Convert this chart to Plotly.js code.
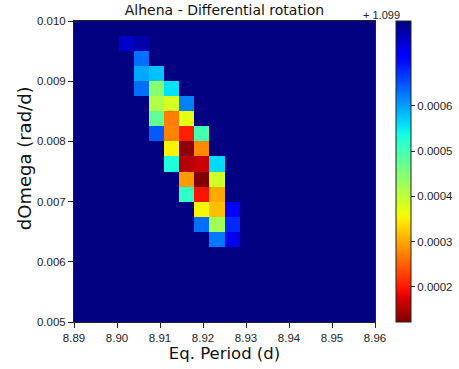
<!DOCTYPE html>
<html>
<head>
<meta charset="utf-8">
<script src="https://cdn.plot.ly/plotly-3.0.1.min.js"></script>
<style>html,body{margin:0;padding:0;background:#fff;}#chart{width:459px;height:369px;}</style>
</head>
<body>
<div id="chart"></div>
<script>
// Grid cell centres (Eq. Period in d, dOmega in rad/d)
var periodCenters = [8.89175, 8.89525, 8.89875, 8.90225, 8.90575, 8.90925, 8.91275, 8.91625, 8.91975, 8.92325,
                     8.92675, 8.93025, 8.93375, 8.93725, 8.94075, 8.94425, 8.94775, 8.95125, 8.95475, 8.95825];
var dOmegaCenters = [0.005125, 0.005375, 0.005625, 0.005875, 0.006125, 0.006375, 0.006625, 0.006875, 0.007125, 0.007375,
                     0.007625, 0.007875, 0.008125, 0.008375, 0.008625, 0.008875, 0.009125, 0.009375, 0.009625, 0.009875];

// Offset of the colour values (shown as "+ 1.099" above the colour bar)
var valueOffset = 1.099;
// Value of the cells that are not computed (background)
var backgroundValue = 0.000788;
var colorMin = 0.000122;
var colorMax = 0.000788;

// Computed cells
var cellPeriod = [8.90225, 8.90575,
                  8.90575,
                  8.90575, 8.90925,
                  8.90575, 8.90925, 8.91275,
                  8.90925, 8.91275, 8.91625,
                  8.90925, 8.91275, 8.91625,
                  8.90925, 8.91275, 8.91625, 8.91975,
                  8.91275, 8.91625, 8.91975,
                  8.91275, 8.91625, 8.91975, 8.92325,
                  8.91625, 8.91975, 8.92325,
                  8.91625, 8.91975, 8.92325,
                  8.91975, 8.92325, 8.92675,
                  8.91975, 8.92325, 8.92675,
                  8.92325, 8.92675];
var cellDOmega = [0.009625, 0.009625,
                  0.009375,
                  0.009125, 0.009125,
                  0.008875, 0.008875, 0.008875,
                  0.008625, 0.008625, 0.008625,
                  0.008375, 0.008375, 0.008375,
                  0.008125, 0.008125, 0.008125, 0.008125,
                  0.007875, 0.007875, 0.007875,
                  0.007625, 0.007625, 0.007625, 0.007625,
                  0.007375, 0.007375, 0.007375,
                  0.007125, 0.007125, 0.007125,
                  0.006875, 0.006875, 0.006875,
                  0.006625, 0.006625, 0.006625,
                  0.006375, 0.006375];
var cellValue = [0.000746, 0.000763,
                 0.000632,
                 0.000595, 0.000578,
                 0.000633, 0.000445, 0.000558,
                 0.000413, 0.000382, 0.000620,
                 0.000475, 0.000270, 0.000368,
                 0.000646, 0.000274, 0.000203, 0.000498,
                 0.000355, 0.000129, 0.000279,
                 0.000531, 0.000152, 0.000164, 0.000562,
                 0.000291, 0.000122, 0.000388,
                 0.000515, 0.000196, 0.000302,
                 0.000356, 0.000316, 0.000708,
                 0.000633, 0.000426, 0.000679,
                 0.000626, 0.000726];

var xTickVals = [8.89, 8.90, 8.91, 8.92, 8.93, 8.94, 8.95, 8.96];
var yTickVals = [0.005, 0.006, 0.007, 0.008, 0.009, 0.010];
var cbTickVals = [0.0002, 0.0003, 0.0004, 0.0005, 0.0006];
var cbTickText = ["0.0002", "0.0003", "0.0004", "0.0005", "0.0006"];

// Build z matrix
var z = [];
for (var i = 0; i < dOmegaCenters.length; i++) {
  var row = [];
  for (var j = 0; j < periodCenters.length; j++) row.push(backgroundValue);
  z.push(row);
}
for (var k = 0; k < cellValue.length; k++) {
  var xi = periodCenters.indexOf(cellPeriod[k]);
  var yi = dOmegaCenters.indexOf(cellDOmega[k]);
  if (xi >= 0 && yi >= 0) z[yi][xi] = cellValue[k];
}

// Reversed "jet" colour map (low values dark red, high values navy)
function interp(pts, s) {
  for (var i = 1; i < pts.length; i++) {
    if (s <= pts[i][0]) {
      var a = pts[i-1], b = pts[i];
      return a[1] + (b[1]-a[1]) * (s-a[0]) / (b[0]-a[0]);
    }
  }
  return pts[pts.length-1][1];
}
var R = [[0,0],[0.35,0],[0.66,1],[0.89,1],[1,0.5]];
var G = [[0,0],[0.125,0],[0.375,1],[0.64,1],[0.91,0],[1,0]];
var B = [[0,0.5],[0.11,1],[0.34,1],[0.65,0],[1,0]];
var colorscale = [];
for (var n = 0; n <= 50; n++) {
  var t = n / 50, s = 1 - t;
  colorscale.push([t, 'rgb(' + Math.round(255*interp(R,s)) + ',' + Math.round(255*interp(G,s)) + ',' + Math.round(255*interp(B,s)) + ')']);
}

var trace = {
  type: 'heatmap',
  x: periodCenters,
  y: dOmegaCenters,
  z: z,
  zmin: colorMin,
  zmax: colorMax,
  colorscale: colorscale,
  hoverinfo: 'x+y+z',
  colorbar: {
    x: 1.069, xanchor: 'left', xpad: 0,
    y: 0.5, yanchor: 'middle', ypad: 0,
    len: 1, lenmode: 'fraction',
    thickness: 15, thicknessmode: 'pixels',
    outlinewidth: 1, outlinecolor: '#222',
    ticks: 'outside', ticklen: 4, tickcolor: '#222',
    tickvals: cbTickVals, ticktext: cbTickText,
    tickfont: {family: 'Liberation Sans, Arial, sans-serif', size: 11.5, color: '#222'}
  }
};

var axisFont = {family: 'Liberation Sans, Arial, sans-serif', size: 11.5, color: '#222'};
var layout = {
  width: 459, height: 369,
  margin: {l: 74, r: 84, t: 21, b: 47, pad: 0, autoexpand: false},
  paper_bgcolor: '#fff', plot_bgcolor: '#fff',
  showlegend: false,
  title: {
    text: 'Alhena - Differential rotation',
    font: {family: 'DejaVu Sans, sans-serif', size: 14, color: '#111'},
    x: 0.5, xref: 'paper', xanchor: 'center',
    y: 0.973, yref: 'container', yanchor: 'middle'
  },
  xaxis: {
    range: [8.89, 8.96],
    tickvals: xTickVals, tickformat: '.2f',
    ticks: 'outside', ticklen: 5, tickcolor: '#222',
    showline: true, linecolor: '#222', linewidth: 1, mirror: true,
    showgrid: false, zeroline: false,
    tickfont: axisFont,
    title: {text: 'Eq. Period (d)', font: {family: 'DejaVu Sans, sans-serif', size: 16.5, color: '#111'}, standoff: 3},
    automargin: false
  },
  yaxis: {
    range: [0.005, 0.010],
    tickvals: yTickVals, tickformat: '.3f',
    ticks: 'outside', ticklen: 5, tickcolor: '#222',
    showline: true, linecolor: '#222', linewidth: 1, mirror: true,
    showgrid: false, zeroline: false,
    tickfont: axisFont,
    automargin: false
  },
  annotations: [
    {text: '+ ' + valueOffset.toFixed(3), xref: 'paper', yref: 'paper', x: 1.09, y: 1.02,
     xanchor: 'right', yanchor: 'middle', showarrow: false,
     font: {family: 'Liberation Sans, Arial, sans-serif', size: 11, color: '#222'}},
    {text: 'dOmega (rad/d)', xref: 'paper', yref: 'paper', x: -0.162, y: 0.545,
     xanchor: 'center', yanchor: 'middle', textangle: -90, showarrow: false,
     font: {family: 'DejaVu Sans, sans-serif', size: 18, color: '#111'}}
  ]
};

Plotly.newPlot('chart', [trace], layout, {displayModeBar: false, staticPlot: true});
</script>
</body>
</html>
